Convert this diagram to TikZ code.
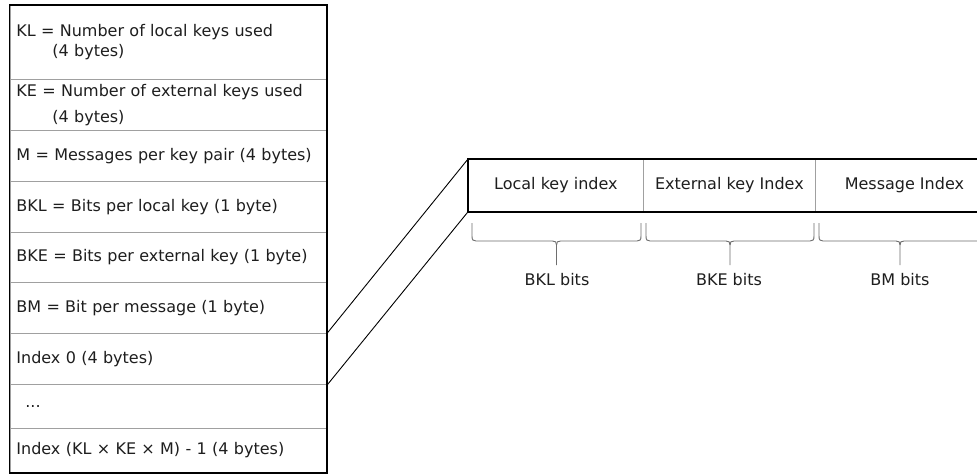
\documentclass[tikz,border=0pt]{standalone}
\usepackage{fontspec}
\setmainfont{DejaVu Sans}
\definecolor{divgray}{RGB}{160,160,160}
\definecolor{bracegray}{RGB}{110,110,110}
\definecolor{ink}{RGB}{30,30,30}
% curly brace under a bit field: left end, right end, tip position
\newcommand\fieldbrace[3]{%
  \draw[bracestyle] (#1,223) -- (#1,236)
    .. controls (#1,240) and (#1+1,241) .. (#1+4,241) -- (#3-4,241)
    .. controls (#3-1,241) and (#3,242) .. (#3,245) -- (#3,265);
  \draw[bracestyle] (#3,245)
    .. controls (#3,242) and (#3+1,241) .. (#3+4,241) -- (#2-4,241)
    .. controls (#2-1,241) and (#2,240) .. (#2,236) -- (#2,223);
}
\begin{document}
\begin{tikzpicture}[x=1pt,y=-1pt,
  font=\fontsize{16}{20}\selectfont, text=ink,
  rowbox/.style={draw=divgray, line width=0.8pt, anchor=north west,
    minimum width=317pt, text width=304pt, inner xsep=6.5pt, inner ysep=0pt,
    align=left},
  cell/.style={draw=divgray, line width=0.8pt, anchor=north west,
    minimum height=52pt, inner sep=0pt},
  outer/.style={draw=black, line width=1.8pt},
  link/.style={draw=black, line width=0.9pt},
  bracestyle/.style={draw=bracegray, line width=0.9pt},
  bitlabel/.style={anchor=base}]
\useasboundingbox (0,0) rectangle (977,475);
\clip (0,0) rectangle (977,475);
\fill[white] (0,0) rectangle (977,475);

% header / index table
\node[rowbox, minimum height=74pt] (r1) at (9.5,5)
  {KL = Number of local keys used\\\hspace*{36pt}(4 bytes)};
\node[rowbox, minimum height=51pt] (r2) at (9.5,79)
  {\mbox{KE = Number of external keys used}\\[6pt]\hspace*{36pt}(4 bytes)};
\node[rowbox, minimum height=51pt] (r3) at (9.5,130)
  {\mbox{M = Messages per key pair (4 bytes)}};
\node[rowbox, minimum height=51pt] (r4) at (9.5,181)
  {BKL = Bits per local key (1 byte)};
\node[rowbox, minimum height=50pt] (r5) at (9.5,232)
  {\mbox{BKE = Bits per external key (1 byte)}};
\node[rowbox, minimum height=51pt] (r6) at (9.5,282)
  {BM = Bit per message (1 byte)};
\node[rowbox, minimum height=51pt] (r7) at (9.5,333)
  {Index 0 (4 bytes)};
\node[rowbox, minimum height=44pt] (r8) at (9.5,384)
  {\hspace*{9pt}...};
\node[rowbox, minimum height=44pt] (r9) at (9.5,428)
  {\mbox{Index (KL × KE × M) - 1 (4 bytes)}};
\draw[outer] (r1.north west) rectangle (r9.south east);

% one index entry split into its bit fields
\node[cell, minimum width=175pt] (local) at (468,159) {Local key index};
\node[cell, minimum width=172pt] (ext) at (643,159) {External key Index};
\node[cell, minimum width=178pt] (msg) at (815,159) {Message Index};
\draw[outer] (msg.north east) -- (local.north west) -- (local.south west)
  -- (msg.south east);

% zoom lines from the entry to its expansion
\draw[link] (r7.north east) -- (local.north west);
\draw[link] (r7.south east) -- (local.south west);

% field widths
\fieldbrace{472}{641}{556.5}
\fieldbrace{646}{814}{730}
\fieldbrace{819}{981}{900}
\node[bitlabel] (bkl) at (557,285) {BKL bits};
\node[bitlabel] (bke) at (729,285) {BKE bits};
\node[bitlabel] (bm) at (900,285) {BM bits};
\end{tikzpicture}
\end{document}
